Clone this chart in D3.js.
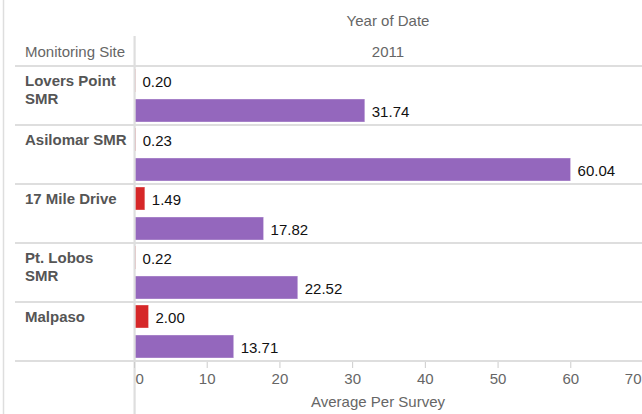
<!DOCTYPE html>
<html>
<head>
<meta charset="utf-8">
<script src="https://cdn.jsdelivr.net/npm/d3@7"></script>
<style>
  body { margin: 0; background: #fff; }
  text { font-family: "Liberation Sans", Arial, sans-serif; }
</style>
</head>
<body>
<div id="vis"></div>
<script>
// set constants
const FRAME_WIDTH = 642;
const FRAME_HEIGHT = 414;
const PANE = {left: 134, right: 642, top: 66, bottom: 361};

// data
const SITES = ["Lovers Point SMR", "Asilomar SMR", "17 Mile Drive", "Pt. Lobos SMR", "Malpaso"];
const SITE_LINES = [["Lovers Point", "SMR"], ["Asilomar SMR"], ["17 Mile Drive"], ["Pt. Lobos", "SMR"], ["Malpaso"]];
const SERIES_RED = [0.20, 0.23, 1.49, 0.22, 2.00];
const SERIES_PURPLE = [31.74, 60.04, 17.82, 22.52, 13.71];
const X_TICKS = [0, 10, 20, 30, 40, 50, 60, 70];
const YEAR = "2011";

const GRID = "#dedede";

const FRAME = d3.select("#vis")
                .append("svg")
                  .attr("width", FRAME_WIDTH)
                  .attr("height", FRAME_HEIGHT);

// scales
const X_SCALE = d3.scaleLinear()
                  .domain([0, 70])
                  .range([PANE.left, PANE.left + 509]);

const ROW_SCALE = d3.scaleBand()
                    .domain(SITES)
                    .range([PANE.top, PANE.bottom]);

const SUB_SCALE = d3.scaleBand()
                    .domain(["red", "purple"])
                    .range([0, ROW_SCALE.bandwidth()])
                    .paddingInner(0.233)
                    .paddingOuter(0.1);

const COLOR = {red: "#d62728", purple: "#9467bd"};

// flatten into bar rows
let bars = [];
SITES.forEach((s, i) => {
  bars.push({site: s, series: "red", value: SERIES_RED[i]});
  bars.push({site: s, series: "purple", value: SERIES_PURPLE[i]});
});

// left border
FRAME.append("line")
     .attr("x1", 3.5).attr("x2", 3.5)
     .attr("y1", 0).attr("y2", FRAME_HEIGHT)
     .attr("stroke", GRID).attr("stroke-width", 1.5);

// headers
FRAME.append("text")
     .attr("x", (PANE.left + PANE.right) / 2)
     .attr("y", 26)
     .attr("text-anchor", "middle")
     .attr("font-size", "15px")
     .attr("fill", "#666")
     .text("Year of Date");

FRAME.append("text")
     .attr("x", (PANE.left + PANE.right) / 2)
     .attr("y", 57)
     .attr("text-anchor", "middle")
     .attr("font-size", "15px")
     .attr("fill", "#666")
     .text(YEAR);

FRAME.append("text")
     .attr("x", 25)
     .attr("y", 57)
     .attr("font-size", "15px")
     .attr("fill", "#666")
     .text("Monitoring Site");

// bars
FRAME.selectAll(".bar")
     .data(bars)
     .enter()
     .append("rect")
       .attr("class", "bar")
       .attr("x", X_SCALE(0))
       .attr("y", (d) => { return ROW_SCALE(d.site) + SUB_SCALE(d.series); })
       .attr("width", (d) => { return X_SCALE(d.value) - X_SCALE(0); })
       .attr("height", SUB_SCALE.bandwidth())
       .attr("fill", (d) => { return COLOR[d.series]; })
       .attr("stroke", "#fff")
       .attr("stroke-opacity", 0.35)
       .attr("stroke-width", 1);

// value labels
FRAME.selectAll(".val")
     .data(bars)
     .enter()
     .append("text")
       .attr("class", "val")
       .attr("x", (d) => { return X_SCALE(d.value) + 7; })
       .attr("y", (d) => { return ROW_SCALE(d.site) + SUB_SCALE(d.series) + SUB_SCALE.bandwidth() / 2 + 1; })
       .attr("dy", "0.36em")
       .attr("font-size", "15px")
       .attr("fill", "#111")
       .text((d) => { return d.value.toFixed(2); });

// row separators
const lineYs = [PANE.top].concat(SITES.map((s) => ROW_SCALE(s) + ROW_SCALE.bandwidth()));
FRAME.selectAll(".hline")
     .data(lineYs)
     .enter()
     .append("line")
       .attr("class", "hline")
       .attr("x1", 15).attr("x2", FRAME_WIDTH)
       .attr("y1", (d) => d).attr("y2", (d) => d)
       .attr("stroke", GRID).attr("stroke-width", 2);

// vertical divider (drawn over the bar roots)
FRAME.append("line")
     .attr("x1", PANE.left + 0.6).attr("x2", PANE.left + 0.6)
     .attr("y1", 36).attr("y2", FRAME_HEIGHT)
     .attr("stroke", GRID).attr("stroke-width", 2.2);

// row labels
SITES.forEach((s, i) => {
  let t = FRAME.append("text")
               .attr("x", 25)
               .attr("y", ROW_SCALE(s) + 20)
               .attr("font-size", "15px")
               .attr("font-weight", "bold")
               .attr("fill", "#555");
  SITE_LINES[i].forEach((ln, j) => {
    t.append("tspan")
     .attr("x", 25)
     .attr("dy", j === 0 ? 0 : 18)
     .text(ln);
  });
});

// x axis
const axis = FRAME.append("g")
     .attr("transform", "translate(0," + (PANE.bottom + 1) + ")")
     .call(d3.axisBottom(X_SCALE).tickValues(X_TICKS).tickSize(6).tickPadding(5));
axis.select(".domain").remove();
axis.selectAll(".tick line").attr("stroke", "#ccc");
axis.selectAll(".tick text")
    .attr("font-size", "15px")
    .attr("font-family", "Liberation Sans, Arial, sans-serif")
    .attr("fill", "#666")
    .attr("text-anchor", (d, i) => i === 0 ? "start" : (i === X_TICKS.length - 1 ? "end" : "middle"))
    .attr("dx", (d, i) => i === 0 ? 1 : (i === X_TICKS.length - 1 ? (FRAME_WIDTH - 1 - X_SCALE(d)) : 0));

FRAME.append("text")
     .attr("x", 378)
     .attr("y", 407)
     .attr("text-anchor", "middle")
     .attr("font-size", "15px")
     .attr("fill", "#666")
     .text("Average Per Survey");
</script>
</body>
</html>
